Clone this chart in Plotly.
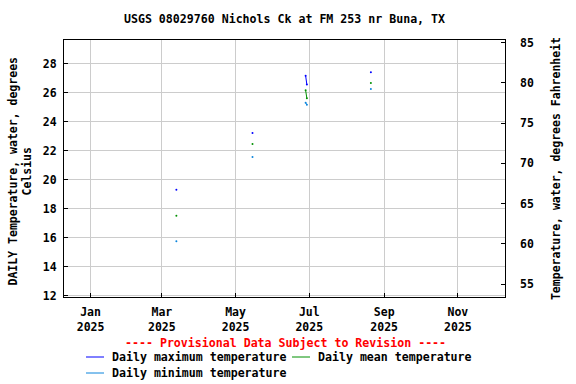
import plotly.graph_objects as go

# ---- data ----
dates = ["2025-03-13", None, "2025-05-15", None, "2025-06-28", "2025-06-29", None, "2025-08-21"]
t_max = [19.3, None, 23.2, None, 27.15, 26.55, None, 27.4]
t_mean = [17.5, None, 22.45, None, 26.15, 25.6, None, 26.65]
t_min = [15.75, None, 21.55, None, 25.3, 25.15, None, 26.25]
x_ticks = ["2025-01-01", "2025-03-01", "2025-05-01", "2025-07-01", "2025-09-01", "2025-11-01"]
x_tick_text = ["Jan<br>2025", "Mar<br>2025", "May<br>2025", "Jul<br>2025", "Sep<br>2025", "Nov<br>2025"]
y_ticks = [12, 14, 16, 18, 20, 22, 24, 26, 28]
f_ticks = [55, 60, 65, 70, 75, 80, 85]
series_names = ["Daily maximum temperature", "Daily mean temperature", "Daily minimum temperature"]
series_colors = ["#0000FF", "#009000", "#0A84DC"]

FONT = "DejaVu Sans Mono"
W, H = 576, 384
L, R, T, B = 64, 505, 40, 297
ymin, ymax = 11.9, 29.62

fig = go.Figure()
for name, vals, col in zip(series_names, [t_max, t_mean, t_min], series_colors):
    fig.add_trace(go.Scatter(x=dates, y=vals, mode="lines+markers", name=name,
                             line=dict(color=col, width=1), marker=dict(color=col, size=2),
                             connectgaps=False, showlegend=False, hoverinfo="skip"))
# dummy trace to activate the Fahrenheit axis
fig.add_trace(go.Scatter(x=[None], y=[None], yaxis="y2", showlegend=False, hoverinfo="skip"))

axfont = dict(family=FONT, size=11.5, color="black", weight="bold")

fig.update_layout(
    width=W, height=H,
    margin=dict(l=L, r=W - R, t=T, b=H - B),
    paper_bgcolor="white", plot_bgcolor="white",
    font=axfont,
    title=dict(text="USGS 08029760 Nichols Ck at FM 253 nr Buna, TX",
               font=dict(family=FONT, size=11.6, color="black", weight="bold"),
               x=(L + R) / 2 / W, xanchor="center", xref="container",
               y=1 - 19 / H, yanchor="middle", yref="container"),
    xaxis=dict(range=["2024-12-10", "2025-12-10"], type="date",
               tickvals=x_ticks, ticktext=x_tick_text, tickfont=axfont,
               showgrid=True, gridcolor="#CCCCCC", gridwidth=1,
               ticks="inside", ticklen=4, tickcolor="black", ticklabelstandoff=4,
               showline=True, linecolor="black", linewidth=1, mirror=True,
               zeroline=False),
    yaxis=dict(range=[ymin, ymax], tickvals=y_ticks, tickfont=axfont,
               showgrid=True, gridcolor="#CCCCCC", gridwidth=1,
               ticks="inside", ticklen=4, tickcolor="black", ticklabelstandoff=4,
               showline=True, linecolor="black", linewidth=1, mirror=True,
               zeroline=False),
    yaxis2=dict(range=[ymin * 1.8 + 32, ymax * 1.8 + 32], tickvals=f_ticks,
                overlaying="y", side="right", tickfont=axfont,
                showgrid=False, ticks="inside", ticklen=4, tickcolor="black",
                showline=False, zeroline=False, ticklabelstandoff=14,
                title=dict(text="Temperature, water, degrees Fahrenheit",
                           font=axfont, standoff=19)),
)

def px(xp):
    return (xp - L) / (R - L)

def py(yp):
    return (B - yp) / (B - T)

annotations = [
    dict(text="DAILY Temperature, water, degrees<br>Celsius", textangle=-90,
         x=px(19.5), y=py(172), xref="paper", yref="paper",
         xanchor="center", yanchor="middle", showarrow=False, font=axfont),
    dict(text="---- Provisional Data Subject to Revision ----",
         x=px(285), y=py(343), xref="paper", yref="paper",
         xanchor="center", yanchor="middle", showarrow=False,
         font=dict(family=FONT, size=11.6, color="red", weight="bold")),
]
shapes = []
legend_pos = [(86, 357), (292, 357), (86, 373)]
for name, col, (lx, ly) in zip(series_names, series_colors, legend_pos):
    shapes.append(dict(type="line", xref="paper", yref="paper",
                       x0=px(lx), x1=px(lx + 18), y0=py(ly), y1=py(ly),
                       line=dict(color=col, width=1)))
    annotations.append(dict(text=name, x=px(lx + 24), y=py(ly), xref="paper", yref="paper",
                            xanchor="left", yanchor="middle", showarrow=False,
                            font=dict(family=FONT, size=11.6, color="black", weight="bold")))
fig.update_layout(annotations=annotations, shapes=shapes)

fig.write_html("out.html", config={"displayModeBar": False},
               post_script="document.body.style.margin='0';")
